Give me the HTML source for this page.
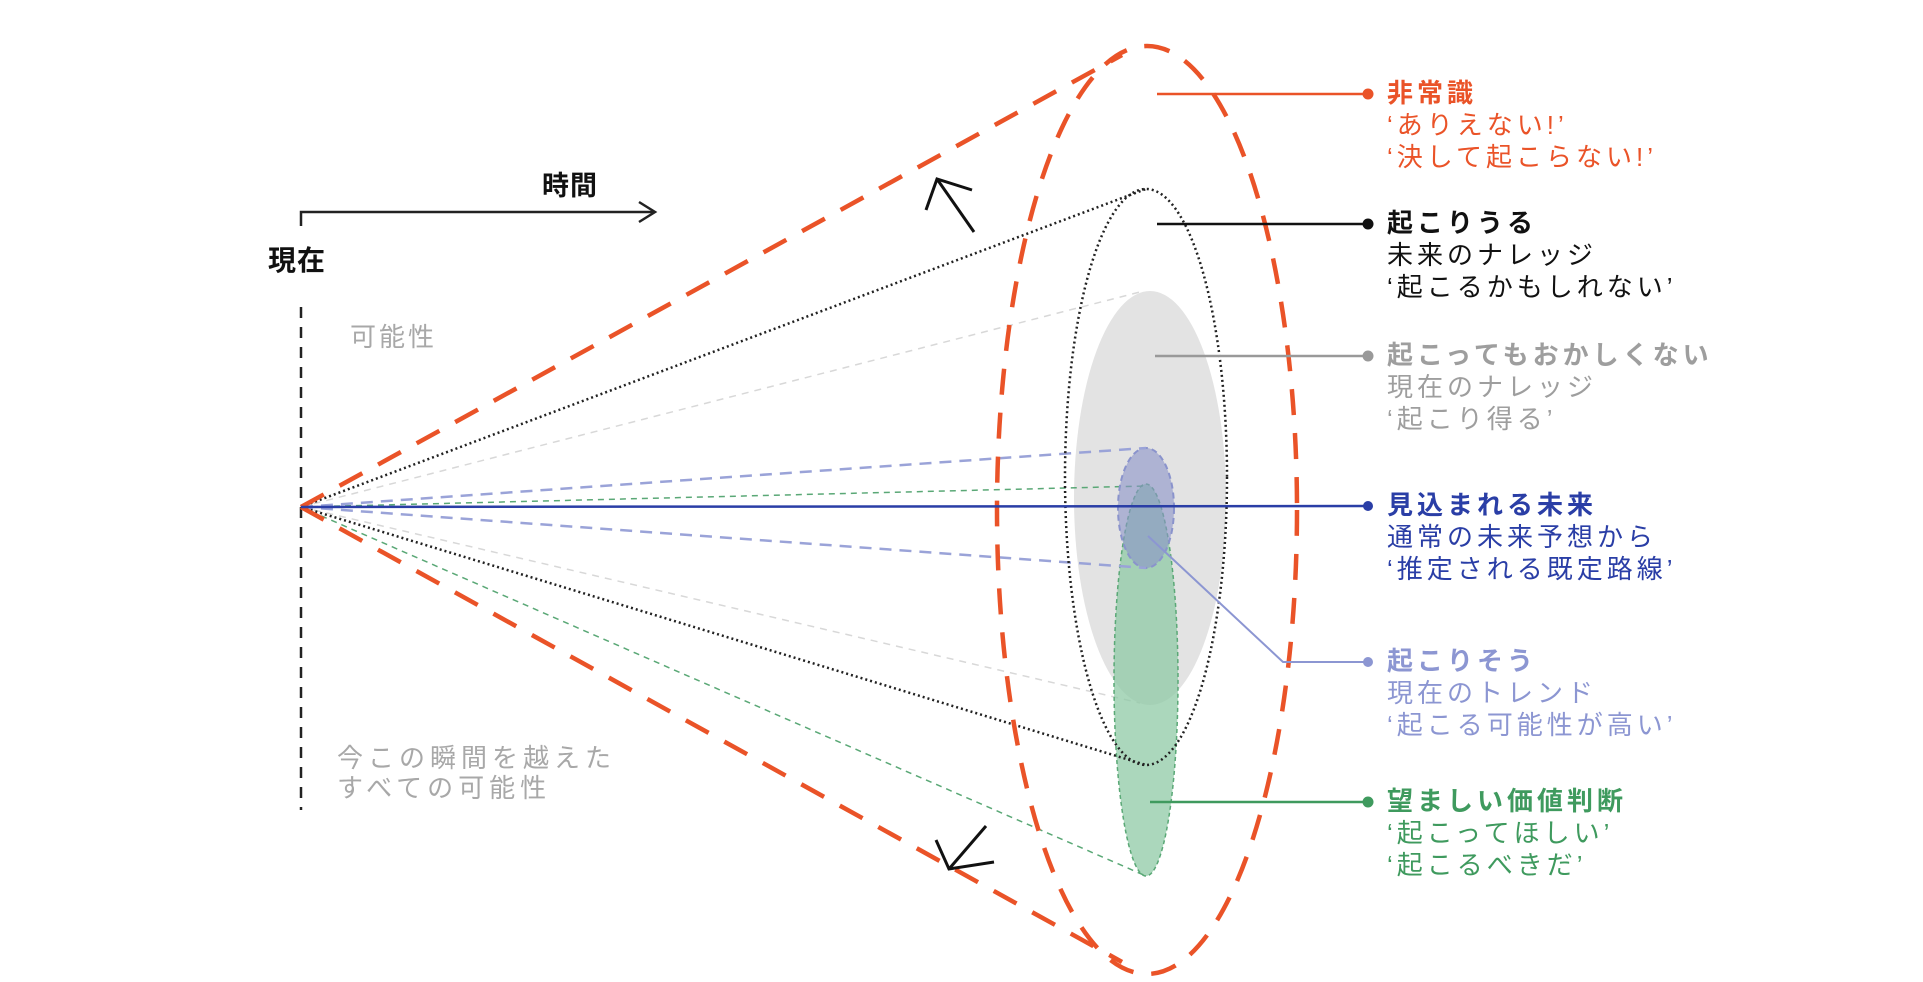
<!DOCTYPE html>
<html><head><meta charset="utf-8"><style>
html,body{margin:0;padding:0;background:#fff;width:1923px;height:982px;overflow:hidden}
svg text{font-family:"Liberation Sans","Noto Sans CJK JP",sans-serif;font-size:26px;letter-spacing:4px}
.b{font-weight:bold}
</style></head><body>
<svg width="1923" height="982" viewBox="0 0 1923 982" xmlns="http://www.w3.org/2000/svg">
<polyline points="301,226 301,212 654,212" fill="none" stroke="#222" stroke-width="2.5"/>
<polyline points="639,202 655,212 639,222" fill="none" stroke="#222" stroke-width="2.5"/>
<text x="542" y="195" class="b" fill="#111" style="font-size:27px;letter-spacing:1px">時間</text>
<text x="268" y="270" class="b" fill="#111" style="font-size:28px;letter-spacing:1px">現在</text>
<line x1="301" y1="307" x2="301" y2="810" stroke="#222" stroke-width="2.5" stroke-dasharray="11,9"/>
<text x="350" y="346" fill="#a8a8a8" style="letter-spacing:3px">可能性</text>
<text x="337" y="767" fill="#a8a8a8" style="letter-spacing:5px">今この瞬間を越えた</text>
<text x="337" y="797" fill="#a8a8a8" style="letter-spacing:5px">すべての可能性</text>

<ellipse cx="1150" cy="498" rx="76" ry="207" fill="#e3e3e3"/>
<line x1="301" y1="507" x2="1140" y2="292" stroke="#d8d8d8" stroke-width="1.5" stroke-dasharray="7,6"/>
<line x1="301" y1="507" x2="1140" y2="703" stroke="#d8d8d8" stroke-width="1.5" stroke-dasharray="7,6"/>
<ellipse cx="1146" cy="680" rx="32" ry="196" fill="#8fcaa6" fill-opacity="0.75" stroke="#5aa876" stroke-width="1.5" stroke-dasharray="4,3"/>
<line x1="301" y1="507" x2="1146" y2="486" stroke="#5aa876" stroke-width="1.5" stroke-dasharray="6,5"/>
<line x1="301" y1="507" x2="1146" y2="876" stroke="#5aa876" stroke-width="1.5" stroke-dasharray="6,5"/>
<ellipse cx="1146" cy="508" rx="28" ry="60" fill="#8a93c8" fill-opacity="0.6" stroke="#8a93cc" stroke-width="2" stroke-dasharray="6,4"/>
<line x1="301" y1="507" x2="1146" y2="448" stroke="#9aa3d8" stroke-width="2.5" stroke-dasharray="12,8"/>
<line x1="301" y1="507" x2="1146" y2="568" stroke="#9aa3d8" stroke-width="2.5" stroke-dasharray="12,8"/>
<ellipse cx="1146" cy="477" rx="81" ry="288" fill="none" stroke="#222" stroke-width="2.5" stroke-dasharray="2,3"/>
<line x1="301" y1="507" x2="1146" y2="189" stroke="#222" stroke-width="2.5" stroke-dasharray="2,3"/>
<line x1="301" y1="507" x2="1146" y2="765" stroke="#222" stroke-width="2.5" stroke-dasharray="2,3"/>
<ellipse cx="1147" cy="510" rx="150" ry="464" fill="none" stroke="#ea5328" stroke-width="4.5" stroke-dasharray="26,18"/>
<line x1="301" y1="507" x2="1122" y2="55" stroke="#ea5328" stroke-width="4.5" stroke-dasharray="26,18"/>
<line x1="301" y1="507" x2="1122" y2="962" stroke="#ea5328" stroke-width="4.5" stroke-dasharray="26,18"/>
<line x1="974" y1="232" x2="937" y2="179" stroke="#111" stroke-width="3"/>
<polyline points="926,210 937,179 972,190" fill="none" stroke="#111" stroke-width="3"/>
<line x1="986" y1="826" x2="949" y2="869" stroke="#111" stroke-width="3"/>
<polyline points="936,840 949,869 994,862" fill="none" stroke="#111" stroke-width="3"/>
<line x1="301" y1="507" x2="1368" y2="506" stroke="#2a3ea6" stroke-width="2.5"/>
<circle cx="1368" cy="506" r="5" fill="#2a3ea6"/>
<line x1="1157" y1="94" x2="1368" y2="94" stroke="#ea5328" stroke-width="2.5"/><circle cx="1368" cy="94" r="5.5" fill="#ea5328"/>
<line x1="1157" y1="224" x2="1368" y2="224" stroke="#111" stroke-width="2.5"/><circle cx="1368" cy="224" r="5.5" fill="#111"/>
<line x1="1155" y1="356" x2="1368" y2="356" stroke="#999" stroke-width="2.5"/><circle cx="1368" cy="356" r="5.5" fill="#999"/>
<polyline points="1148,536 1283,662 1368,662" fill="none" stroke="#8c96d2" stroke-width="2"/><circle cx="1368" cy="662" r="5" fill="#8c96d2"/>
<line x1="1150" y1="802" x2="1368" y2="802" stroke="#3f9a5e" stroke-width="2.5"/><circle cx="1368" cy="802" r="5.5" fill="#3f9a5e"/>
<g fill="#ea5328"><text x="1387" y="102" class="b">非常識</text><text x="1387" y="134">‘ありえない!’</text><text x="1387" y="166">‘決して起こらない!’</text></g>
<g fill="#111"><text x="1387" y="232" class="b">起こりうる</text><text x="1387" y="264">未来のナレッジ</text><text x="1387" y="296">‘起こるかもしれない’</text></g>
<g fill="#9e9e9e"><text x="1387" y="364" class="b">起こってもおかしくない</text><text x="1387" y="396">現在のナレッジ</text><text x="1387" y="428">‘起こり得る’</text></g>
<g fill="#2a3ea6"><text x="1387" y="514" class="b">見込まれる未来</text><text x="1387" y="546">通常の未来予想から</text><text x="1387" y="578">‘推定される既定路線’</text></g>
<g fill="#8c96d2"><text x="1387" y="670" class="b">起こりそう</text><text x="1387" y="702">現在のトレンド</text><text x="1387" y="734">‘起こる可能性が高い’</text></g>
<g fill="#3f9a5e"><text x="1387" y="810" class="b">望ましい価値判断</text><text x="1387" y="842">‘起こってほしい’</text><text x="1387" y="874">‘起こるべきだ’</text></g>
</svg>
</body></html>
